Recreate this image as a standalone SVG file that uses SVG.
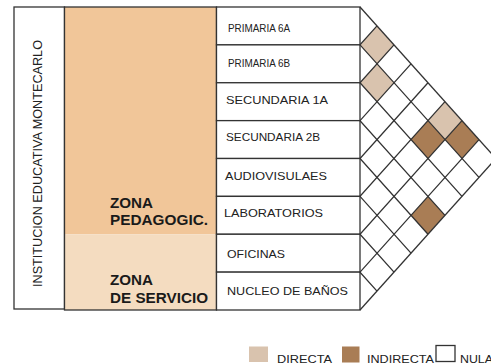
<svg xmlns="http://www.w3.org/2000/svg" width="491" height="364" viewBox="0 0 491 364">
<style>
.frame{fill:none;stroke:#333;stroke-width:1.3}
.room{fill:#fff;stroke:#333;stroke-width:1.3}
.lbl{font-family:"Liberation Sans",Arial,sans-serif;font-size:11.5px;fill:#222}
.ttl{font-family:"Liberation Sans",Arial,sans-serif;font-size:12.5px;fill:#222}
.zone{font-family:"Liberation Sans",Arial,sans-serif;font-size:14.5px;font-weight:bold;fill:#1a1a1a}
.grid{fill:none;stroke:#333;stroke-width:1.3;stroke-linejoin:miter}
.dir{fill:#d9c3ae}
.ind{fill:#a97d55}
</style>
<rect width="491" height="364" fill="#fff"/>
<g id="title">
<rect x="14" y="7" width="50.5" height="302" fill="#fff" class="frame"/>
<text class="ttl" transform="translate(42,163.5) rotate(-90)" text-anchor="middle" textLength="247" lengthAdjust="spacingAndGlyphs">INSTITUCION EDUCATIVA MONTECARLO</text>
</g>
<g id="zona-pedagogica">
<rect x="64.5" y="7" width="152" height="227.25" fill="#f1c699"/>
<text class="zone" x="110" y="208.3" textLength="43" lengthAdjust="spacingAndGlyphs">ZONA</text>
<text class="zone" x="110" y="225" textLength="98" lengthAdjust="spacingAndGlyphs">PEDAGOGIC.</text>
</g>
<g id="zona-servicio">
<rect x="64.5" y="234.25" width="152" height="75.75" fill="#f4dcc0"/>
<text class="zone" x="110" y="285" textLength="43" lengthAdjust="spacingAndGlyphs">ZONA</text>
<text class="zone" x="110" y="302.7" textLength="98" lengthAdjust="spacingAndGlyphs">DE SERVICIO</text>
</g>
<rect x="64.5" y="7" width="152" height="303" class="frame"/>
<g id="primaria-6a"><rect x="216.5" y="7" width="143.5" height="37.875" class="room"/><text class="lbl" x="228" y="32" textLength="62" lengthAdjust="spacingAndGlyphs">PRIMARIA 6A</text></g>
<g id="primaria-6b"><rect x="216.5" y="44.875" width="143.5" height="37.875" class="room"/><text class="lbl" x="228" y="67" textLength="62" lengthAdjust="spacingAndGlyphs">PRIMARIA 6B</text></g>
<g id="secundaria-1a"><rect x="216.5" y="82.75" width="143.5" height="37.875" class="room"/><text class="lbl" x="226" y="103.5" textLength="102" lengthAdjust="spacingAndGlyphs">SECUNDARIA 1A</text></g>
<g id="secundaria-2b"><rect x="216.5" y="120.625" width="143.5" height="37.875" class="room"/><text class="lbl" x="226" y="141" textLength="94" lengthAdjust="spacingAndGlyphs">SECUNDARIA 2B</text></g>
<g id="audiovisulaes"><rect x="216.5" y="158.5" width="143.5" height="37.875" class="room"/><text class="lbl" x="225" y="180" textLength="102" lengthAdjust="spacingAndGlyphs">AUDIOVISULAES</text></g>
<g id="laboratorios"><rect x="216.5" y="196.375" width="143.5" height="37.875" class="room"/><text class="lbl" x="224" y="217" textLength="99" lengthAdjust="spacingAndGlyphs">LABORATORIOS</text></g>
<g id="oficinas"><rect x="216.5" y="234.25" width="143.5" height="37.875" class="room"/><text class="lbl" x="227" y="258" textLength="58" lengthAdjust="spacingAndGlyphs">OFICINAS</text></g>
<g id="nucleo-banos"><rect x="216.5" y="272.125" width="143.5" height="37.875" class="room"/><text class="lbl" x="227" y="295" textLength="121" lengthAdjust="spacingAndGlyphs">NUCLEO DE BAÑOS</text></g>
<g id="matrix-cells">
<polygon class="dir" points="377,25.94 394,44.875 377,63.81 360,44.875"/>
<polygon class="dir" points="377,63.81 394,82.75 377,101.69 360,82.75"/>
<polygon class="dir" points="445,101.69 462,120.625 445,139.56 428,120.625"/>
<polygon class="ind" points="428,120.625 445,139.56 428,158.5 411,139.56"/>
<polygon class="ind" points="462,120.625 479,139.56 462,158.5 445,139.56"/>
<polygon class="ind" points="428,196.375 445,215.31 428,234.25 411,215.31"/>
</g>
<g id="connectors">
<polyline class="grid" points="360,7 496,158.5"/>
<polyline class="grid" points="377,25.94 360,44.875 479,177.44"/>
<polyline class="grid" points="394,44.875 360,82.75 462,196.375"/>
<polyline class="grid" points="411,63.81 360,120.625 445,215.31"/>
<polyline class="grid" points="428,82.75 360,158.5 428,234.25"/>
<polyline class="grid" points="445,101.69 360,196.375 411,253.19"/>
<polyline class="grid" points="462,120.625 360,234.25 394,272.125"/>
<polyline class="grid" points="479,139.56 360,272.125 377,291.06"/>
<polyline class="grid" points="496,158.5 360,310"/>
</g>
<g id="legend">
<rect x="249" y="346.5" width="19" height="15.5" class="dir"/>
<text class="lbl" x="277" y="362.5" textLength="55" lengthAdjust="spacingAndGlyphs">DIRECTA</text>
<rect x="342" y="346.5" width="17.5" height="16" class="ind"/>
<text class="lbl" x="367" y="362.5" textLength="67" lengthAdjust="spacingAndGlyphs">INDIRECTA</text>
<rect x="436" y="345.5" width="19" height="16" fill="#fff" stroke="#333" stroke-width="1.3"/>
<text class="lbl" x="460" y="362.5" textLength="33" lengthAdjust="spacingAndGlyphs">NULA</text>
</g>
</svg>
